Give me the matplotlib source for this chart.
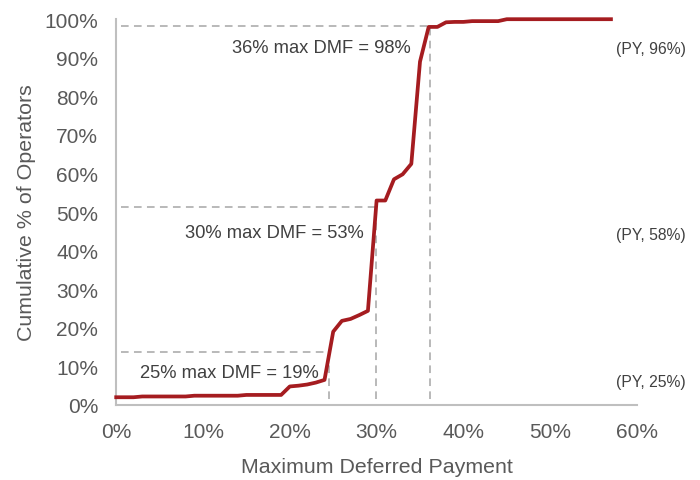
import matplotlib.pyplot as plt
from matplotlib.ticker import PercentFormatter

plt.rcParams['font.family'] = ['Liberation Sans', 'DejaVu Sans']

# maximum deferred payment (%) vs cumulative % of operators
max_dmf = list(range(0, 58))
cum_pct = [2.0, 2.0, 2.0, 2.2, 2.2, 2.2, 2.2, 2.2, 2.2, 2.4,
           2.4, 2.4, 2.4, 2.4, 2.4, 2.6, 2.6, 2.6, 2.6, 2.6,
           4.8, 5.0, 5.3, 5.8, 6.5, 19.0, 21.8, 22.3, 23.3, 24.4,
           53.0, 53.0, 58.5, 59.8, 62.5, 89.0, 98.0, 98.0, 99.2, 99.3,
           99.3, 99.5, 99.5, 99.5, 99.5, 100.0, 100.0, 100.0, 100.0, 100.0,
           100.0, 100.0, 100.0, 100.0, 100.0, 100.0, 100.0, 100.0]

# reference markers (as drawn on the original)
ref_x = [24.5, 29.9, 36.2]
ref_y = [13.7, 51.3, 98.2]
ref_labels = ['25% max DMF = 19%', '30% max DMF = 53%', '36% max DMF = 98%']
ref_text_pos = [(23.3, 8.3), (28.5, 44.6), (33.9, 92.7)]

py_labels = ['(PY, 25%)', '(PY, 58%)', '(PY, 96%)']
py_y = [6.0, 44.3, 92.5]

fig = plt.figure(figsize=(7, 4.81), dpi=100)
ax = fig.add_axes([0.166, 0.156, 0.744, 0.802])

grey = '#a6a6a6'
for x, y in zip(ref_x, ref_y):
    ax.plot([0.6, x], [y, y], color=grey, lw=1.1, dashes=(5, 3.5))
    ax.plot([x, x], [1.5, y], color=grey, lw=1.1, dashes=(5, 3.5))

ax.plot(max_dmf, cum_pct, color='#a51c20', lw=2.7, clip_on=False,
        solid_joinstyle='round', zorder=3)

for lab, (tx, ty) in zip(ref_labels, ref_text_pos):
    ax.text(tx, ty, lab, ha='right', va='center', fontsize=13.2, color='#404040')

for lab, y in zip(py_labels, py_y):
    ax.text(65.6, y, lab, ha='right', va='center', fontsize=11.3,
            color='#404040', clip_on=False)

ax.set_xlim(0, 60)
ax.set_ylim(0, 100)
ax.set_xticks(range(0, 61, 10))
ax.set_yticks(range(0, 101, 10))
ax.xaxis.set_major_formatter(PercentFormatter(decimals=0))
ax.yaxis.set_major_formatter(PercentFormatter(decimals=0))
ax.tick_params(length=0, labelsize=15, colors='#595959', pad=12)
ax.tick_params(axis='y', pad=13)

for side in ['top', 'right']:
    ax.spines[side].set_visible(False)
for side in ['left', 'bottom']:
    ax.spines[side].set_color('#bfbfbf')
    ax.spines[side].set_linewidth(1.5)

ax.set_xlabel('Maximum Deferred Payment', fontsize=15.4, color='#595959', labelpad=12)
ax.set_ylabel('Cumulative % of Operators', fontsize=15.4, color='#595959', labelpad=6)

fig.savefig('out.png', dpi=100)
